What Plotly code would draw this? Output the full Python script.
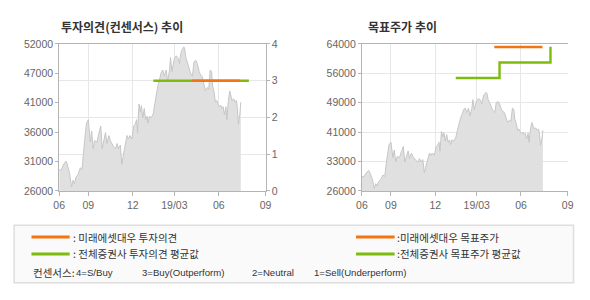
import plotly.graph_objects as go

# ---------------- data ----------------
price_dates = [
    "2018-07-01", "2018-07-05", "2018-07-09", "2018-07-12", "2018-07-15", "2018-07-17", "2018-07-19",
    "2018-07-23", "2018-07-26", "2018-07-27", "2018-07-30", "2018-08-02", "2018-08-05", "2018-08-10",
    "2018-08-14", "2018-08-18", "2018-08-21", "2018-08-24", "2018-08-27", "2018-08-31", "2018-09-04",
    "2018-09-07", "2018-09-10", "2018-09-13", "2018-09-18", "2018-09-21", "2018-09-26", "2018-09-29",
    "2018-10-03", "2018-10-06", "2018-10-09", "2018-10-13", "2018-10-16", "2018-10-20", "2018-10-23",
    "2018-10-27", "2018-10-30", "2018-11-02", "2018-11-06", "2018-11-09", "2018-11-13", "2018-11-16",
    "2018-11-20", "2018-11-23", "2018-11-26", "2018-11-30", "2018-12-04", "2018-12-07", "2018-12-10",
    "2018-12-12", "2018-12-15", "2018-12-18", "2018-12-20", "2018-12-23", "2018-12-26", "2018-12-29",
    "2019-01-01", "2019-01-03", "2019-01-06", "2019-01-09", "2019-01-11", "2019-01-14", "2019-01-17",
    "2019-01-20", "2019-01-24", "2019-01-27", "2019-01-31", "2019-02-03", "2019-02-06", "2019-02-10",
    "2019-02-13", "2019-02-17", "2019-02-19", "2019-02-22", "2019-02-24", "2019-02-27", "2019-03-03",
    "2019-03-06", "2019-03-10", "2019-03-11", "2019-03-14", "2019-03-16", "2019-03-19", "2019-03-21",
    "2019-03-23", "2019-03-26", "2019-03-30", "2019-04-02", "2019-04-06", "2019-04-09", "2019-04-13",
    "2019-04-16", "2019-04-20", "2019-04-23", "2019-04-26", "2019-04-30", "2019-05-03", "2019-05-07",
    "2019-05-10", "2019-05-13", "2019-05-16", "2019-05-18", "2019-05-21", "2019-05-24", "2019-05-27",
    "2019-05-29", "2019-06-01", "2019-06-04", "2019-06-07", "2019-06-09", "2019-06-12", "2019-06-15",
    "2019-06-17", "2019-06-20", "2019-06-23", "2019-06-26", "2019-06-28", "2019-07-01", "2019-07-04",
    "2019-07-07", "2019-07-09", "2019-07-11", "2019-07-14", "2019-07-16",
]
price_values = [
    29800, 29600, 30500, 31000, 31300, 31000, 30400,
    29000, 27200, 26700, 27900, 27300, 28400, 29000,
    30100, 29800, 33000, 35800, 38000, 38600, 34650,
    36600, 33500, 34900, 34650, 35800, 37500, 33500,
    35200, 36350, 34400, 35800, 34900, 34100, 33800,
    33500, 34400, 33500, 34100, 30700, 33000, 34100,
    35800, 35200, 35800, 35200, 37500, 37800, 38600,
    36300, 41400, 40000, 41100, 38900, 40600, 38600,
    39200, 38000, 39200, 38900, 39200, 39700, 41400,
    43100, 44800, 45700, 47100, 47400, 46300, 47400,
    45400, 47400, 49600, 47100, 48200, 49400, 49900,
    49600, 48500, 49600, 50800, 51100, 51500, 51000,
    49600, 48800, 47700, 46800, 46300, 48800, 49100,
    48500, 47100, 46500, 46300, 44800, 43700, 44300,
    44000, 47400, 47100, 44600, 43500, 41700, 42000,
    41400, 40900, 41200, 40600, 40900, 39500, 40900,
    38600, 42000, 43700, 42600, 42000, 42300, 41700,
    42000, 40600, 37800, 39500, 41700,
]

# investment opinion (right axis of left chart, 4=S/Buy ... 1=Sell)
opinion_mirae_dates = ["2019-04-05", "2019-07-15"]
opinion_mirae_values = [3, 3]
opinion_avg_dates = ["2019-01-14", "2019-08-02"]
opinion_avg_values = [3, 3]

# target price
target_mirae_dates = ["2019-04-05", "2019-07-15"]
target_mirae_values = [63200, 63200]
target_avg_dates = ["2019-01-14", "2019-04-16", "2019-08-01"]
target_avg_values = [55200, 59200, 63300]

# axes / ticks
x_range = ["2018-07-01", "2019-09-06"]
x_tickvals = ["2018-07-01", "2018-08-31", "2018-12-02", "2019-02-27", "2019-05-31", "2019-09-06"]
x_ticktext = ["06", "09", "12", "19/03", "06", "09"]

left_tickvals = [26000, 31200, 36400, 41600, 46800, 52000]
left_ticktext = ["26000", "31000", "36000", "41000", "47000", "52000"]
opinion_tickvals = [0, 1, 2, 3, 4]
right_tickvals = [26000, 33600, 41200, 48800, 56400, 64000]
right_ticktext = ["26000", "33000", "41000", "49000", "56000", "64000"]

title_left = "투자의견(컨센서스) 추이"
title_right = "목표주가 추이"
legend_labels = [": 미래에셋대우 투자의견", ": 전체증권사 투자의견 평균값",
                 ":미래에셋대우 목표주가", ":전체증권사 목표주가 평균값"]
consensus_parts = ["컨센서스:", "4=S/Buy", "3=Buy(Outperform)", "2=Neutral", "1=Sell(Underperform)"]

# ---------------- style ----------------
W, H = 590, 300
ORANGE = "#f4740f"
GREEN = "#7dbc0c"
AREA_LINE = "#c6c6c6"
AREA_FILL = "#e0e0e0"
AXIS = "#b4b4b4"
GRID = "#e7e7e7"
TICKC = "#666666"
TXT = "#333333"
KR = "Noto Sans CJK KR"
LAT = "Liberation Sans, Arial, sans-serif"


def px(x):
    return x / W


def py(y):
    return 1 - y / H


fig = go.Figure()

# left chart
fig.add_trace(go.Scatter(x=price_dates, y=price_values, mode="lines", fill="tozeroy",
                         line=dict(color=AREA_LINE, width=1), fillcolor=AREA_FILL,
                         xaxis="x", yaxis="y", hoverinfo="skip"))
fig.add_trace(go.Scatter(x=opinion_avg_dates, y=opinion_avg_values, mode="lines",
                         line=dict(color=GREEN, width=2.4), xaxis="x", yaxis="y2"))
fig.add_trace(go.Scatter(x=opinion_mirae_dates, y=opinion_mirae_values, mode="lines",
                         line=dict(color=ORANGE, width=2.4), xaxis="x", yaxis="y2"))

# right chart
fig.add_trace(go.Scatter(x=price_dates, y=price_values, mode="lines", fill="tozeroy",
                         line=dict(color=AREA_LINE, width=1), fillcolor=AREA_FILL,
                         xaxis="x3", yaxis="y3", hoverinfo="skip"))
fig.add_trace(go.Scatter(x=target_avg_dates, y=target_avg_values, mode="lines", line_shape="hv",
                         line=dict(color=GREEN, width=2.4), xaxis="x3", yaxis="y3"))
fig.add_trace(go.Scatter(x=target_mirae_dates, y=target_mirae_values, mode="lines",
                         line=dict(color=ORANGE, width=2.4), xaxis="x3", yaxis="y3"))

ydom = [py(192.7), py(39.5)]
tickfont = dict(family=LAT, size=10.5, color=TICKC)
xcommon = dict(type="date", range=x_range, tickmode="array", tickvals=x_tickvals, ticktext=x_ticktext,
               showgrid=True, gridcolor=GRID, gridwidth=1, showline=True, linecolor=AXIS, linewidth=1,
               mirror=True, ticks="outside", ticklen=4, tickcolor=AXIS, tickfont=tickfont,
               zeroline=False, fixedrange=True)

fig.update_layout(
    width=W, height=H, autosize=False,
    margin=dict(l=0, r=0, t=0, b=0),
    paper_bgcolor="white", plot_bgcolor="white",
    showlegend=False,
    xaxis=dict(domain=[px(54.3), px(265)], anchor="y", **xcommon),
    yaxis=dict(domain=ydom, anchor="x", range=[26000, 52000], tickmode="array",
               tickvals=left_tickvals, ticktext=left_ticktext, showgrid=False,
               showline=True, linecolor=AXIS, ticks="outside", ticklen=3, tickcolor=AXIS,
               tickfont=tickfont, zeroline=False),
    yaxis2=dict(overlaying="y", side="right", anchor="x", range=[0, 4], tickmode="array",
                tickvals=opinion_tickvals, showgrid=True, gridcolor=GRID,
                showline=True, linecolor=AXIS, ticks="outside", ticklen=3, tickcolor=AXIS,
                tickfont=tickfont, zeroline=False),
    xaxis3=dict(domain=[px(363.3), px(573.3)], anchor="y3", **xcommon),
    yaxis3=dict(domain=ydom, anchor="x3", range=[26000, 64000], tickmode="array",
                tickvals=right_tickvals, ticktext=right_ticktext, showgrid=True, gridcolor=GRID,
                showline=True, linecolor=AXIS, ticks="outside", ticklen=3, tickcolor=AXIS,
                tickfont=tickfont, zeroline=False),
)

# legend box and samples
shapes = [
    dict(type="rect", xref="paper", yref="paper", x0=px(8.3), x1=px(579.3), y0=py(288.3), y1=py(228.3),
         fillcolor="#fafafa", line=dict(color="#dedede", width=1.5), layer="below"),
]
for (x0, x1, y, c) in [(26, 65, 240.7, ORANGE), (26, 65, 258.3, GREEN),
                       (357.3, 396.7, 240.7, ORANGE), (357.3, 396.7, 258.3, GREEN)]:
    shapes.append(dict(type="line", xref="paper", yref="paper", x0=px(x0), x1=px(x1), y0=py(y), y1=py(y),
                       line=dict(color=c, width=3)))
fig.update_layout(shapes=shapes)

ann = []
ann.append(dict(text="<b>" + title_left + "</b>", x=px(54.5), y=py(21), xanchor="left", yanchor="middle",
                font=dict(family=KR, size=12, color=TXT)))
ann.append(dict(text="<b>" + title_right + "</b>", x=px(367.5), y=py(21), xanchor="left", yanchor="middle",
                font=dict(family=KR, size=12, color=TXT)))
for (lbl, x, y) in zip(legend_labels, [66.5, 66.5, 397.5, 397.5], [240.7, 258.3, 240.7, 258.3]):
    ann.append(dict(text=lbl, x=px(x), y=py(y), xanchor="left", yanchor="middle",
                    font=dict(family=KR, size=10.5, color=TXT)))
for (part, x, fam) in zip(consensus_parts, [26, 69, 136.7, 249.5, 312],
                          [KR, LAT, LAT, LAT, LAT]):
    ann.append(dict(text=part, x=px(x), y=py(277.3), xanchor="left", yanchor="middle",
                    font=dict(family=fam, size=10.5 if fam == KR else 9.6, color=TXT)))
for a in ann:
    a.update(xref="paper", yref="paper", showarrow=False)
fig.update_layout(annotations=ann)

fig.write_html("out.html")
